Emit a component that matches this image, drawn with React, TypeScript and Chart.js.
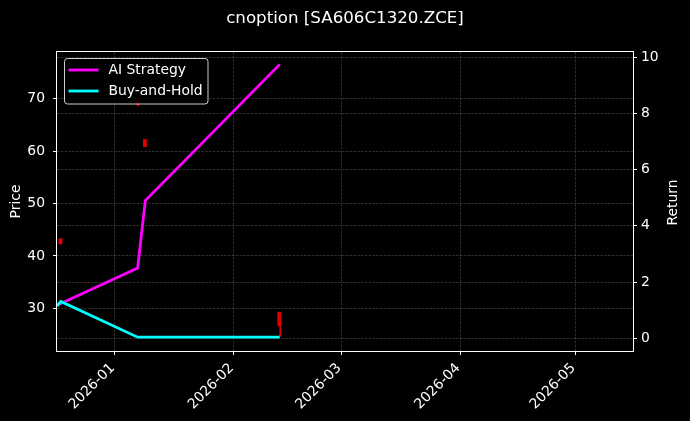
import React, { useEffect, useRef } from "react";
import { Chart, registerables } from "chart.js";

Chart.register(...registerables);

const TITLE = "cnoption [SA606C1320.ZCE]";
const FONT = "'DejaVu Sans', sans-serif";

// x axis
const xStart = "2025-12-17";
const xEnd = "2026-05-16";
const monthTickDates = ["2026-01-01", "2026-02-01", "2026-03-01", "2026-04-01", "2026-05-01"];
const monthTickLabels = ["2026-01", "2026-02", "2026-03", "2026-04", "2026-05"];

// y axes
const priceMin = 21.9;
const priceMax = 78.86;
const priceTicks = [30, 40, 50, 60, 70];
const returnMin = -0.45;
const returnMax = 10.18;
const returnTicks = [0, 2, 4, 6, 8, 10];

// return series
const lineDates = ["2025-12-17", "2025-12-18", "2026-01-07", "2026-01-09", "2026-02-13"];
const aiReturn = [1.2, 1.24, 2.5, 4.9, 9.74];
const bhReturn = [1.15, 1.31, 0.04, 0.04, 0.04];

// price candles
const candleDates = ["2025-12-18", "2026-01-07", "2026-01-09", "2026-02-13"];
const bodyLow = [42.3, 68.9, 60.8, 26.7];
const bodyHigh = [43.3, 69.6, 62.2, 29.3];
const wickLow = [42.3, 68.6, 60.8, 24.7];
const wickHigh = [43.3, 70.0, 62.2, 29.3];

const dayOf = (s: string) => {
  const [y, m, d] = s.split("-").map(Number);
  return (Date.UTC(y, m - 1, d) - Date.UTC(2026, 0, 1)) / 86400000;
};

const overlay = {
  id: "overlay",
  afterDraw(chart: any) {
    const { ctx, chartArea: a } = chart;
    ctx.save();
    // frame
    ctx.strokeStyle = "#ffffff";
    ctx.lineWidth = 1;
    const l = Math.round(a.left) - 0.5, t = Math.round(a.top) - 0.5;
    const rr = Math.round(a.right) + 0.5, b = Math.round(a.bottom) + 0.5;
    ctx.strokeRect(l, t, rr - l, b - t);
    // title
    ctx.fillStyle = "#ffffff";
    ctx.font = `16.67px ${FONT}`;
    ctx.textAlign = "center";
    ctx.textBaseline = "middle";
    ctx.fillText(TITLE, (a.left + a.right) / 2, 18.5);
    // right axis title
    ctx.save();
    ctx.font = `13.9px ${FONT}`;
    ctx.translate(673, (a.top + a.bottom) / 2 + 1);
    ctx.rotate(-Math.PI / 2);
    ctx.fillText("Return", 0, 0);
    ctx.restore();
    // legend
    const lx = a.left + 7.5, ly = a.top + 6.5, lw = 143.5, lh = 45.5, r = 3;
    ctx.beginPath();
    ctx.moveTo(lx + r, ly);
    ctx.lineTo(lx + lw - r, ly);
    ctx.quadraticCurveTo(lx + lw, ly, lx + lw, ly + r);
    ctx.lineTo(lx + lw, ly + lh - r);
    ctx.quadraticCurveTo(lx + lw, ly + lh, lx + lw - r, ly + lh);
    ctx.lineTo(lx + r, ly + lh);
    ctx.quadraticCurveTo(lx, ly + lh, lx, ly + lh - r);
    ctx.lineTo(lx, ly + r);
    ctx.quadraticCurveTo(lx, ly, lx + r, ly);
    ctx.closePath();
    ctx.fillStyle = "rgba(0,0,0,0.8)";
    ctx.fill();
    ctx.strokeStyle = "rgba(255,255,255,0.8)";
    ctx.lineWidth = 1;
    ctx.stroke();
    const items = [
      { label: "AI Strategy", color: "#ff00ff" },
      { label: "Buy-and-Hold", color: "#00ffff" },
    ];
    ctx.font = `13.9px ${FONT}`;
    ctx.textAlign = "left";
    items.forEach((it, i) => {
      const y = ly + 11.5 + i * 21;
      ctx.strokeStyle = it.color;
      ctx.lineWidth = 2.8;
      ctx.beginPath();
      ctx.moveTo(lx + 4, y);
      ctx.lineTo(lx + 34, y);
      ctx.stroke();
      ctx.fillStyle = "#ffffff";
      ctx.fillText(it.label, lx + 44, y + 0.5);
    });
    ctx.restore();
  },
};

export default function App() {
  const ref = useRef<HTMLCanvasElement | null>(null);
  useEffect(() => {
    if (!ref.current) return;
    const gridColor = "rgba(128,128,128,0.5)";
    const tickFont = { family: FONT, size: 13.9 };
    const gridOpts = {
      color: gridColor,
      lineWidth: 0.7,
      tickLength: 4,
      tickColor: "#ffffff",
      tickWidth: 1,
      offset: false,
    };
    const chart = new Chart(ref.current, {
      type: "line",
      data: {
        datasets: [
          {
            type: "bar",
            label: "wick",
            data: candleDates.map((d, i) => ({ x: dayOf(d), y: [wickLow[i], wickHigh[i]] })),
            backgroundColor: "#e00000",
            barThickness: 1.2,
            yAxisID: "y",
            order: 3,
          } as any,
          {
            type: "bar",
            label: "body",
            data: candleDates.map((d, i) => ({ x: dayOf(d), y: [bodyLow[i], bodyHigh[i]] })),
            backgroundColor: "#e00000",
            barThickness: 2,
            yAxisID: "y",
            order: 2,
          } as any,
          {
            label: "AI Strategy",
            data: lineDates.map((d, i) => ({ x: dayOf(d), y: aiReturn[i] })),
            borderColor: "#ff00ff",
            borderWidth: 2.8,
            pointRadius: 0,
            tension: 0,
            yAxisID: "y1",
            order: 1,
          },
          {
            label: "Buy-and-Hold",
            data: lineDates.map((d, i) => ({ x: dayOf(d), y: bhReturn[i] })),
            borderColor: "#00ffff",
            borderWidth: 2.8,
            pointRadius: 0,
            tension: 0,
            yAxisID: "y1",
            order: 0,
          },
        ],
      },
      options: {
        responsive: false,
        animation: false,
        layout: { padding: { top: 52, left: 0, right: 0, bottom: 0 } },
        plugins: { legend: { display: false }, title: { display: false }, tooltip: { enabled: false } },
        scales: {
          x: {
            type: "linear",
            offset: false,
            min: dayOf(xStart),
            max: dayOf(xEnd),
            afterBuildTicks: (s: any) => {
              s.ticks = monthTickDates.map((d) => ({ value: dayOf(d) }));
            },
            afterFit: (s: any) => {
              s.height = 70;
            },
            ticks: {
              color: "#ffffff",
              font: tickFont,
              minRotation: 45,
              maxRotation: 45,
              autoSkip: false,
              padding: 5,
              labelOffset: -2,
              callback: (v: any) => {
                const idx = monthTickDates.findIndex((d) => dayOf(d) === v);
                return idx >= 0 ? monthTickLabels[idx] : "";
              },
            },
            grid: gridOpts,
            border: { display: false, dash: [2.6, 1.2] },
          },
          y: {
            type: "linear",
            position: "left",
            min: priceMin,
            max: priceMax,
            afterBuildTicks: (s: any) => {
              s.ticks = priceTicks.map((v) => ({ value: v }));
            },
            afterFit: (s: any) => {
              s.width = 57;
            },
            ticks: { color: "#ffffff", font: tickFont, padding: 8 },
            title: { display: true, text: "Price", color: "#ffffff", font: tickFont, padding: { top: 8, bottom: 0 } },
            grid: gridOpts,
            border: { display: false, dash: [2.6, 1.2] },
          },
          y1: {
            type: "linear",
            position: "right",
            min: returnMin,
            max: returnMax,
            afterBuildTicks: (s: any) => {
              s.ticks = returnTicks.map((v) => ({ value: v }));
            },
            afterFit: (s: any) => {
              s.width = 57;
            },
            ticks: { color: "#ffffff", font: tickFont, padding: 4 },
            grid: gridOpts,
            border: { display: false, dash: [2.6, 1.2] },
          },
        },
      },
      plugins: [overlay],
    });
    return () => chart.destroy();
  }, []);
  return (
    <div style={{ position: "fixed", left: 0, top: 0, width: 690, height: 421, background: "#000000" }}>
      <canvas ref={ref} width={690} height={421} style={{ display: "block", width: 690, height: 421 }} />
    </div>
  );
}
